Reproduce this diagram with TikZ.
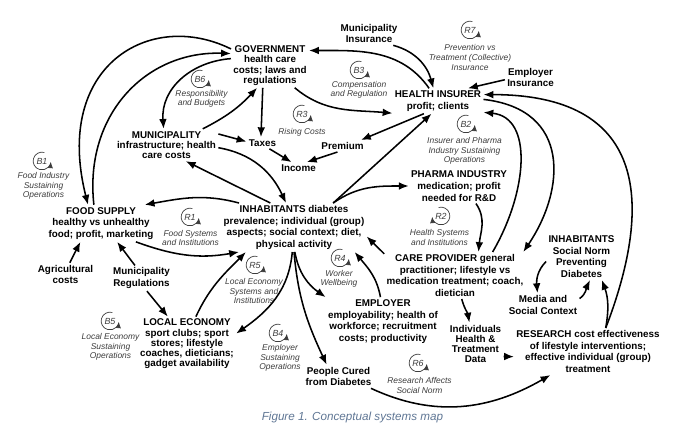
\documentclass[tikz,border=0pt]{standalone}
\usepackage{fontspec}
\setmainfont{Liberation Sans}
\usetikzlibrary{arrows.meta}
\definecolor{loopgray}{RGB}{60,60,60}
\definecolor{captionblue}{RGB}{95,118,148}

\newcommand{\loopmark}[5]{%
  \node[loopid] (#1) at (#2) {#3};
  \draw[loopring] ([shift={(#4:6.3pt)}]#1.center) arc[start angle=#4,end angle=#5,radius=6.3pt];}

\begin{document}
\begin{tikzpicture}[x=0.025cm,y=-0.025cm,
  var/.style={font=\bfseries\fontsize{7}{8.3}\selectfont,align=center,inner sep=1.5pt},
  tight/.style={font=\bfseries\fontsize{7}{7.3}\selectfont},
  looptext/.style={font=\itshape\fontsize{6}{6.8}\selectfont,text=loopgray,align=center,inner sep=0pt},
  loopid/.style={font=\itshape\fontsize{6.3}{7}\selectfont,text=loopgray,inner sep=0pt},
  loopring/.style={draw=loopgray,line width=0.5pt,-{Latex[length=4.5pt,width=3.8pt]}},
  link/.style={line width=1.1pt,-{Latex[length=7pt,width=5.5pt]}}]
\useasboundingbox (0,0) rectangle (680,428);

\node[var,tight] (gov) at (270,65.5) {GOVERNMENT\\health care\\costs; laws and\\regulations};
\node[var] (minsur) at (369,33.5) {Municipality\\Insurance};
\node[var] (hi) at (438,101) {HEALTH INSURER\\profit; clients};
\node[var] (empins) at (530.5,77.5) {Employer\\Insurance};
\node[var,tight] (mun) at (166.5,145) {MUNICIPALITY\\infrastructure; health\\care costs};
\node[var] (taxes) at (262.5,143) {Taxes};
\node[var] (prem) at (342.5,146) {Premium};
\node[var] (income) at (298.5,168) {Income};
\node[var] (food) at (101,223.3) {FOOD SUPPLY\\healthy vs unhealthy\\food; profit, marketing};
\node[var] (inh) at (294,227.5) {INHABITANTS diabetes\\prevalence; individual (group)\\aspects; social context; diet,\\physical activity};
\node[var] (pharma) at (459,186) {PHARMA INDUSTRY\\medication; profit\\needed for R\&D};
\node[var] (care) at (455,275.5) {CARE PROVIDER general\\practitioner; lifestyle vs\\medication treatment; coach,\\dietician};
\node[var] (social) at (581.5,256.5) {INHABITANTS\\Social Norm\\Preventing\\Diabetes};
\node[var] (media) at (543,305) {Media and\\Social Context};
\node[var] (agri) at (65.5,274.5) {Agricultural\\costs};
\node[var] (mreg) at (141.5,278.3) {Municipality\\Regulations};
\node[var,tight] (local) at (187,344) {LOCAL ECONOMY\\sport clubs; sport\\stores; lifestyle\\coaches, dieticians;\\gadget availability};
\node[var] (employer) at (383,321.5) {EMPLOYER\\employability; health of\\workforce; recruitment\\costs; productivity};
\node[var,tight] (data) at (475.5,344) {Individuals\\Health \&\\Treatment\\Data};
\node[var] (research) at (588,351.5) {RESEARCH cost effectiveness\\of lifestyle interventions;\\effective individual (group)\\treatment};
\node[var] (cured) at (338.5,376.5) {People Cured\\from Diabetes};

\loopmark{b6}{200,79}{B6}{75}{355}
\node[looptext] (b6lbl) at (201.5,99) {Responsibility\\and Budgets};
\loopmark{b3}{359,70}{B3}{75}{355}
\node[looptext] (b3lbl) at (359,90) {Compensation\\and Regulation};
\loopmark{r7}{470,30}{R7}{75}{355}
\node[looptext] (r7lbl) at (470,57.5) {Prevention vs\\Treatment (Collective)\\Insurance};
\loopmark{r3}{302,114}{R3}{75}{355}
\node[looptext] (r3lbl) at (302,132) {Rising Costs};
\loopmark{b2}{466,124}{B2}{75}{355}
\node[looptext] (b2lbl) at (464.5,151) {Insurer and Pharma\\Industry Sustaining\\Operations};
\loopmark{b1}{42,161}{B1}{75}{355}
\node[looptext] (b1lbl) at (43.5,186) {Food Industry\\Sustaining\\Operations};
\loopmark{r1}{190,217}{R1}{75}{355}
\node[looptext] (r1lbl) at (190.5,238) {Food Systems\\and Institutions};
\loopmark{r2}{441,216}{R2}{105}{-175}
\node[looptext] (r2lbl) at (439.5,237.5) {Health Systems\\and Institutions};
\loopmark{r5}{255,265}{R5}{75}{355}
\node[looptext] (r5lbl) at (254,291) {Local Economy\\Systems and\\Institutions};
\loopmark{r4}{340,258}{R4}{75}{355}
\node[looptext] (r4lbl) at (339,279) {Worker\\Wellbeing};
\loopmark{b5}{110,321}{B5}{75}{355}
\node[looptext] (b5lbl) at (110.5,347) {Local Economy\\Sustaining\\Operations};
\loopmark{b4}{278,333}{B4}{75}{355}
\node[looptext] (b4lbl) at (280,358) {Employer\\Sustaining\\Operations};
\loopmark{r6}{418,363}{R6}{75}{355}
\node[looptext] (r6lbl) at (419.5,385.5) {Research Affects\\Social Norm};

\draw[link] (gov.157) .. controls +(-81,-40) and +(-35,-139) .. (food.125);
\draw[link] (food.111) .. controls +(-10,-90) and +(-85,-3) .. (gov.163);
\draw[link] (gov.170) .. controls +(-40,3) and +(-3,-40) .. (mun.100);
\draw[link] (mun.24) to[bend right=10] (gov.240);
\draw[link] (gov.252) -- (taxes.105);
\draw[link] (mun.12) -- (taxes.175);
\draw[link] (mun.357) to[out=-10,in=115] (inh.108);
\draw[link] (taxes.-40) -- (income.140);
\draw[link] (prem.-130) -- (income.35);
\draw[link] (hi.222) -- (prem.18);
\draw[link] (inh.32) -- (hi.243);
\draw[link] (gov.318) to[out=-40,in=175] (hi.195);
\draw[link] (hi.125) to[out=125,in=0] (gov.21);
\draw[link] (minsur.334) to[out=-15,in=105] (hi.110);
\draw[link] (empins.185) -- (hi.23);
\draw[link] (inh.134) -- (mun.320);
\draw[link] (inh.156) to[out=165,in=10] (food.23);
\draw[link] (food.332) to[out=-20,in=190] (inh.204);
\draw[link] (agri.70) -- (food.222);
\draw[link] (mreg.117) -- (food.311);
\draw[link] (mreg.293) -- (local.125);
\draw[link] (local.72) to[out=65,in=225] (inh.207);
\draw[link] (inh.266) to[out=-95,in=35] (local.12);
\draw[link] (inh.272) to[out=-80,in=145] (employer.157);
\draw[link] (inh.270) to[out=-85,in=115] (cured.135);
\draw[link] (employer.96) to[out=100,in=-50] (inh.338);
\draw[link] (care.163) -- (inh.353);
\draw[link] (inh.32) to[out=35,in=180] (pharma.180);
\draw[link] (pharma.314) to[out=-55,in=85] (care.45);
\draw[link] (care.32) .. controls +(35,-60) and +(50,5) .. (hi.346);
\draw[link] (hi.2) .. controls +(88,10) and +(42,-62) .. (care.19);
\draw[link] (research.53) .. controls +(50,-130) and +(160,0) .. (hi.8);
\draw[link] (research.53) to[out=80,in=-70] (social.311);
\draw[link] (media.10) to[out=35,in=-115] (social.290);
\draw[link] (social.188) to[out=225,in=95] (media.115);
\draw[link] (care.286) to[out=-75,in=100] (data.106);
\draw[link] (data.336) -- (research.184);
\draw[link] (cured.340) to[out=-25,in=210] (research.212);

\node[font=\itshape\fontsize{8.3}{10}\selectfont,text=captionblue] (caption) at (352.5,417) {Figure 1. Conceptual systems map};
\end{tikzpicture}
\end{document}
